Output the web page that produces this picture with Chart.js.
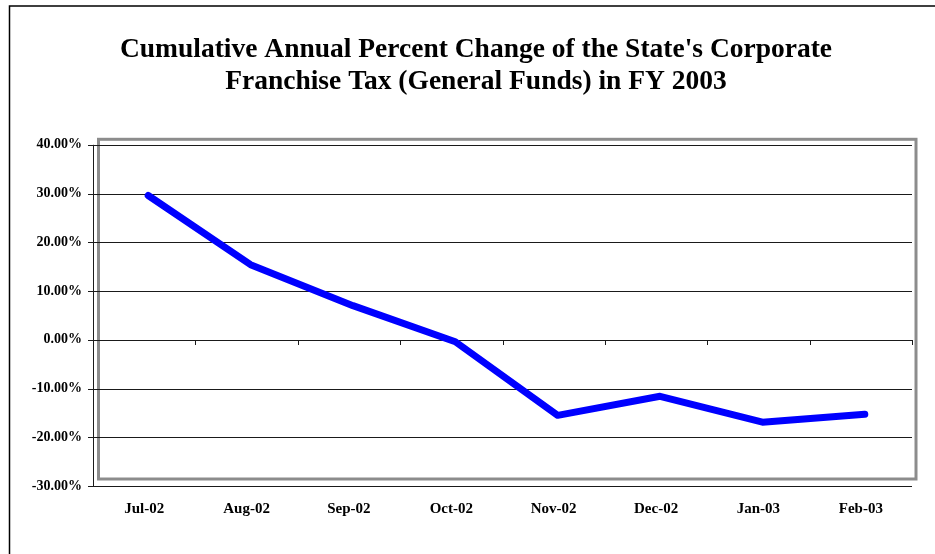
<!DOCTYPE html>
<html>
<head>
<meta charset="utf-8">
<title>Corporate Franchise Tax FY 2003</title>
<script src="https://cdn.jsdelivr.net/npm/chart.js@4.4.1/dist/chart.umd.min.js"></script>
<style>
  html, body { margin: 0; padding: 0; background: #fff; }
  #wrap { width: 935px; height: 554px; position: relative; }
</style>
</head>
<body>
<div id="wrap"><canvas id="taxChart"></canvas></div>
<script>
// monthly cumulative % change, FY 2003
const months = ['Jul-02', 'Aug-02', 'Sep-02', 'Oct-02', 'Nov-02', 'Dec-02', 'Jan-03', 'Feb-03'];
const pctChange = [29.6, 15.4, 7.0, -0.4, -15.5, -11.6, -16.9, -15.3];
const yMin = -30;
const yMax = 40;
const yStep = 10;

const serif = "'Liberation Serif', 'Times New Roman', serif";

// excel style plot frame, gridlines and axes (axes sit a few px left of the frame)
const frame = {
    id: 'frame',
    beforeDraw(chart) {
        const ctx = chart.ctx;
        ctx.save();
        ctx.strokeStyle = '#000';
        ctx.lineWidth = 1.5;
        ctx.beginPath();
        ctx.moveTo(9.5, chart.height);
        ctx.lineTo(9.5, 6);
        ctx.lineTo(chart.width, 6);
        ctx.stroke();
        ctx.restore();
    },
    beforeDatasetsDraw(chart) {
        const { ctx, chartArea: a, scales: { x, y } } = chart;
        const shift = 4;
        ctx.save();

        // grey plot area border
        ctx.strokeStyle = '#8c8c8c';
        ctx.lineWidth = 3;
        ctx.strokeRect(a.left + 1.5, a.top - 5.5, a.width - 1.5, a.height - 1.5);

        // horizontal gridlines + y tick marks
        ctx.strokeStyle = '#1a1a1a';
        ctx.lineWidth = 1;
        y.ticks.forEach(t => {
            const py = Math.round(y.getPixelForValue(t.value)) + 0.5;
            ctx.beginPath();
            ctx.moveTo(a.left - shift - 5, py);
            ctx.lineTo(a.right - shift, py);
            ctx.stroke();
        });

        // y axis line
        const ax = Math.round(a.left - shift) + 0.5;
        ctx.beginPath();
        ctx.moveTo(ax, a.top);
        ctx.lineTo(ax, a.bottom);
        ctx.stroke();

        // category tick marks hang from the zero line
        const zy = Math.round(y.getPixelForValue(0));
        for (let i = 1; i <= months.length; i++) {
            const px = Math.round(x.getPixelForValue(i - 0.5) - shift) + 0.5;
            ctx.beginPath();
            ctx.moveTo(px, zy);
            ctx.lineTo(px, zy + 5);
            ctx.stroke();
        }
        ctx.restore();
    }
};

const ctx = document.getElementById('taxChart').getContext('2d');

const taxChart = new Chart(ctx, {
    type: 'line',
    data: {
        labels: months,
        datasets: [{
            data: pctChange,
            yAxisID: 'y',
            borderColor: '#0000ff',
            borderWidth: 7,
            borderCapStyle: 'round',
            borderJoinStyle: 'round',
            pointRadius: 0,
            tension: 0,
            fill: false
        }]
    },
    options: {
        responsive: true,
        maintainAspectRatio: false,
        animation: false,
        layout: {
            padding: { top: 0, right: 0, bottom: 0, left: 17 }
        },
        plugins: {
            legend: { display: false },
            tooltip: { enabled: false },
            title: {
                display: true,
                text: ["Cumulative Annual Percent Change of the State's Corporate",
                       'Franchise Tax (General Funds) in FY 2003'],
                color: '#000',
                font: { family: serif, size: 27.5, weight: 'bold', lineHeight: 1.16 },
                padding: { top: 34, bottom: 47 }
            }
        },
        scales: {
            x: {
                offset: true,
                grid: { display: false, drawTicks: false },
                border: { display: false },
                ticks: {
                    color: '#000',
                    font: { family: serif, size: 15, weight: 'bold' },
                    padding: 14,
                    labelOffset: -4,
                    maxRotation: 0
                },
                afterFit(scale) { scale.height = 68; }
            },
            y: {
                min: yMin,
                max: yMax,
                grid: { display: false, drawTicks: false },
                border: { display: false },
                ticks: {
                    stepSize: yStep,
                    color: '#000',
                    font: { family: serif, size: 14, weight: 'bold' },
                    padding: 15,
                    callback: v => v.toFixed(2) + '%'
                },
                afterFit(scale) { scale.width = 80; }
            },
            // empty right-hand margin
            yRight: {
                position: 'right',
                min: yMin,
                max: yMax,
                grid: { display: false, drawTicks: false },
                border: { display: false },
                ticks: { display: false },
                afterFit(scale) { scale.width = 19; }
            }
        }
    },
    plugins: [frame]
});
</script>
</body>
</html>
